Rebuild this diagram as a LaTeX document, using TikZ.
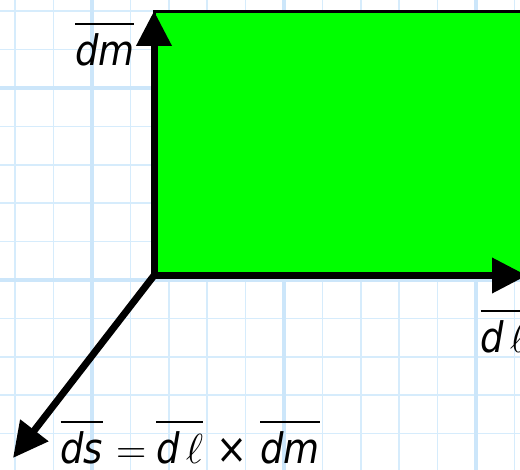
\documentclass[tikz,border=0pt]{standalone}
\usepackage{fix-cm}
\usepackage{amsmath}
\usepackage{fontspec}
\setmainfont{DejaVu Sans}
\newfontfamily\etiqfont{DejaVu Sans}[FakeStretch=0.88]
\usetikzlibrary{arrows.meta}
\definecolor{cuadmenor}{RGB}{214,236,252}
\definecolor{cuadmayor}{RGB}{204,230,250}
% barra de vector
\newcommand{\barra}[1]{\vbox{\hrule height 2.4pt\kern 9pt\hbox{#1}}}

\begin{document}
\begin{tikzpicture}[x=1pt,y=-1pt,line width=7pt,>={Triangle[length=35pt,width=34pt]},
  rejilla/.style={cuadmenor,line width=1.6pt},
  rejillamayor/.style={cuadmayor,line width=4pt},
  etiq/.style={anchor=base west,inner sep=0pt,font=\fontsize{42}{44}\selectfont\etiqfont}]
  \useasboundingbox (0,0) rectangle (520,470);
  \clip (0,0) rectangle (520,470);
  % papel cuadriculado
  \foreach \k in {0,...,13} \draw[rejilla] (15.2+38.4*\k,0) -- (15.2+38.4*\k,470);
  \foreach \k in {0,...,12} \draw[rejilla] (0,11.2+38.4*\k) -- (520,11.2+38.4*\k);
  \foreach \k in {2,7,12} {
    \draw[rejillamayor] (15.2+38.4*\k,0) -- (15.2+38.4*\k,470);
    \draw[rejillamayor] (0,11.2+38.4*\k) -- (520,11.2+38.4*\k);
  }
  % origen y puntas
  \coordinate (O) at (154,275.5);
  \coordinate (dmTip) at (154,11);
  \coordinate (dlTip) at (527,275.5);
  \coordinate (dsTip) at (13,458);
  % elemento de superficie
  \draw[fill=green,line width=3pt] (O) rectangle (560,11.5);
  % vectores
  \draw[<->] (dmTip) -- (O) -- (dlTip);
  \draw[->] (O) -- (dsTip);
  \node[etiq,anchor=base east] (lblDm) at (138,66) {\barra{\itshape dm}};
  \node[etiq] (lblDl) at (477,353) {\barra{\itshape d\hspace{6pt}$\ell$}};
  \node[etiq] (lblDs) at (57,464) {\barra{\itshape ds}\hspace{13pt}$=$\hspace{10pt}\barra{\itshape d\hspace{6pt}$\ell$}\hspace{13pt}×\hspace{13pt}\barra{\itshape dm}};
\end{tikzpicture}
\end{document}
